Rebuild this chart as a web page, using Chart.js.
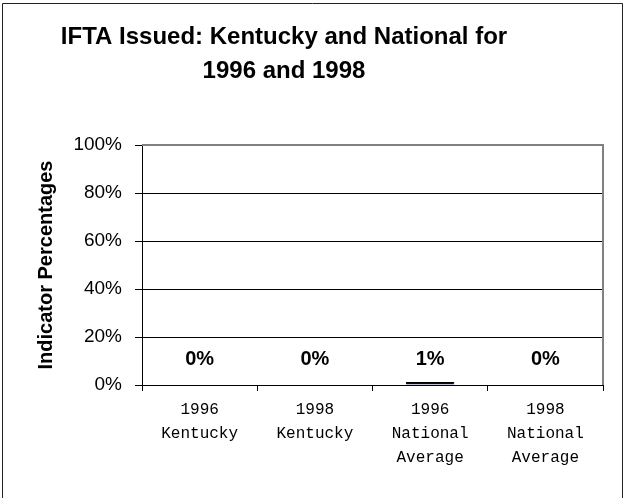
<!DOCTYPE html>
<html>
<head>
<meta charset="utf-8">
<script src="https://cdn.jsdelivr.net/npm/chart.js@4/dist/chart.umd.min.js"></script>
<style>
  html, body { margin: 0; padding: 0; background: #fff; }
  canvas { display: block; }
</style>
</head>
<body>
<canvas id="iftaChart" width="624" height="498"></canvas>
<script>
const titleLines = ['IFTA Issued: Kentucky and National for', '1996 and 1998'];
const categories = [
    ['1996', 'Kentucky'],
    ['1998', 'Kentucky'],
    ['1996', 'National', 'Average'],
    ['1998', 'National', 'Average']
];
const indicatorValues = [0, 0, 1.3, 0];
const yTicks = [0, 20, 40, 60, 80, 100];
const yAxisTitle = 'Indicator Percentages';

const sans = '"Liberation Sans", Arial, sans-serif';
const mono = '"Liberation Mono", "Courier New", monospace';

// frame round the whole picture + title (sits left of canvas centre in the original)
const framePlugin = {
    id: 'frame',
    afterDraw(chart) {
        const ctx = chart.ctx;
        ctx.save();
        ctx.strokeStyle = '#222';
        ctx.lineWidth = 1;
        ctx.beginPath();
        ctx.moveTo(2.5, 500);
        ctx.lineTo(2.5, 3.5);
        ctx.lineTo(622.5, 3.5);
        ctx.lineTo(622.5, 500);
        ctx.stroke();

        ctx.fillStyle = '#000';
        ctx.font = 'bold 24px ' + sans;
        ctx.textAlign = 'center';
        ctx.textBaseline = 'middle';
        titleLines.forEach((line, i) => {
            ctx.fillText(line, 284, 37 + i * 34);
        });
        ctx.restore();
    }
};

// gray plot border on top / right
const plotBorderPlugin = {
    id: 'plotBorder',
    beforeDatasetsDraw(chart) {
        const { ctx, chartArea } = chart;
        ctx.save();
        ctx.strokeStyle = '#808080';
        ctx.lineWidth = 2;
        ctx.beginPath();
        ctx.moveTo(chartArea.left, chartArea.top);
        ctx.lineTo(chartArea.right, chartArea.top);
        ctx.lineTo(chartArea.right, chartArea.bottom);
        ctx.stroke();
        ctx.restore();
    }
};

const valueLabelPlugin = {
    id: 'valueLabels',
    afterDatasetsDraw(chart) {
        const ctx = chart.ctx;
        const yScale = chart.scales.y;
        const base = yScale.getPixelForValue(0);
        ctx.save();
        ctx.fillStyle = '#000';
        ctx.font = 'bold 20px ' + sans;
        ctx.textAlign = 'center';
        ctx.textBaseline = 'middle';
        chart.getDatasetMeta(0).data.forEach((bar, i) => {
            ctx.fillText(Math.round(indicatorValues[i]) + '%', bar.x, base - 26);
        });
        ctx.restore();
    }
};

const ctx = document.getElementById('iftaChart').getContext('2d');
new Chart(ctx, {
    type: 'bar',
    data: {
        labels: categories,
        datasets: [{
            data: indicatorValues,
            backgroundColor: '#000060',
            borderColor: '#000',
            borderWidth: 1,
            categoryPercentage: 1,
            barPercentage: 0.42
        }]
    },
    options: {
        responsive: false,
        animation: false,
        devicePixelRatio: 1,
        layout: {
            padding: { top: 145, right: 21, bottom: 21, left: 34 }
        },
        plugins: {
            legend: { display: false },
            tooltip: { enabled: false },
            title: { display: false }
        },
        scales: {
            x: {
                offset: true,
                grid: {
                    offset: true,
                    drawOnChartArea: false,
                    drawTicks: true,
                    tickLength: 6,
                    tickColor: '#000'
                },
                border: { color: '#000', width: 1 },
                ticks: {
                    color: '#000',
                    font: { family: mono, size: 16, lineHeight: 1.5 },
                    padding: 7,
                    maxRotation: 0,
                    autoSkip: false
                }
            },
            y: {
                min: 0,
                max: 100,
                afterBuildTicks(scale) {
                    scale.ticks = yTicks.map(v => ({ value: v }));
                },
                afterFit(scale) {
                    scale.width = 142 - 34;
                },
                grid: {
                    color: c => c.tick && c.tick.value === 100 ? 'rgba(0,0,0,0)' : '#000',
                    lineWidth: 1,
                    tickLength: 7,
                    tickColor: '#000'
                },
                border: { color: '#000', width: 1 },
                ticks: {
                    color: '#000',
                    font: { family: sans, size: 19 },
                    padding: 13,
                    callback: v => v + '%'
                },
                title: {
                    display: true,
                    text: yAxisTitle,
                    color: '#000',
                    font: { family: sans, size: 20, weight: 'bold' },
                    padding: { top: 0, bottom: 0 }
                }
            }
        }
    },
    plugins: [framePlugin, plotBorderPlugin, valueLabelPlugin]
});
</script>
</body>
</html>
